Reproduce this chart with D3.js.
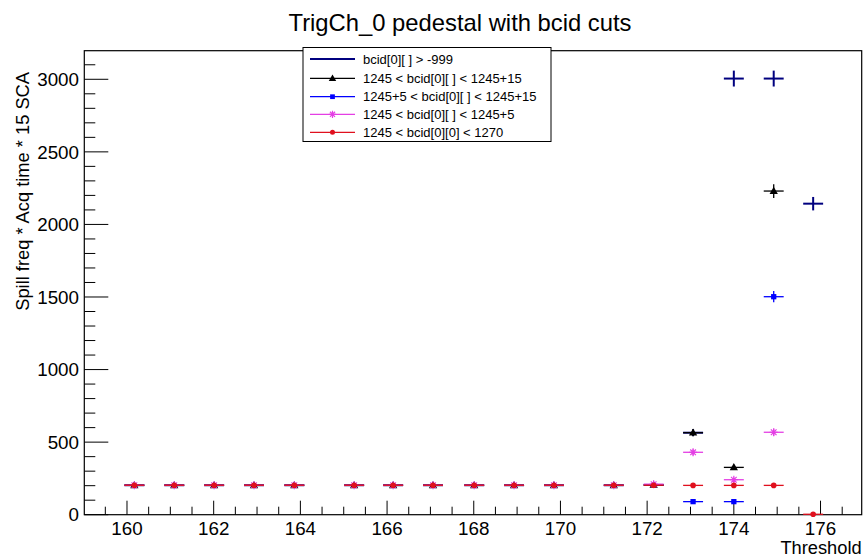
<!DOCTYPE html>
<html><head><meta charset="utf-8">
<script src="https://cdn.jsdelivr.net/npm/d3@7/dist/d3.min.js"></script>
<style>
html,body{margin:0;padding:0;background:#fff;}
svg{display:block;}
text{font-family:"Liberation Sans",Arial,Helvetica,sans-serif;}
</style>
</head><body>
<svg id="c" width="867" height="559"></svg>
<script>
// ---- data ----
const xs = [160.17,161.09,162.01,162.93,163.86,165.24,166.14,167.06,168.01,168.93,169.85,171.23,172.15,173.06,174.0,174.92,175.83];
const seriesNames = ["bcid[0][ ] > -999","1245 < bcid[0][ ] < 1245+15","1245+5 < bcid[0][ ] < 1245+15","1245 < bcid[0][ ] < 1245+5","1245 < bcid[0][0] < 1270"];
const allBcid   = [203,203,203,203,203,203,203,203,203,203,203,203,205,565,3005,3005,2143];
const cut1260   = [203,203,203,203,203,203,203,203,203,203,203,203,205,565,326,2230,null];
const cut1250to60=[null,null,null,null,null,null,null,null,null,null,null,null,null,90,90,1502,null];
const cut1250   = [203,203,203,203,203,203,203,203,203,203,203,203,210,430,241,568,null];
const cut00     = [203,203,203,203,203,203,203,203,203,203,203,203,203,202,202,202,3];
const xHalfWidth = 0.23;
const xTicks = [160,162,164,166,168,170,172,174,176];
const yTicks = [0,500,1000,1500,2000,2500,3000];
const titleText = "TrigCh_0 pedestal with bcid cuts";
const xTitle = "Threshold";
const yTitle = "Spill freq * Acq time * 15 SCA";

const svg = d3.select("#c");
const L=84.3, R=861.7, T=50.7, B=514.7;
const x = d3.scaleLinear().domain([159.015,176.95]).range([L,R]);
const y = d3.scaleLinear().domain([0,3197]).range([B,T]);

// frame
svg.append("rect").attr("x",L).attr("y",T).attr("width",R-L).attr("height",B-T)
  .attr("fill","none").attr("stroke","#000").attr("stroke-width",1.2);

// x axis ticks
const xMinor = d3.range(159.5,176.95,0.5);
const gx = svg.append("g");
xMinor.forEach(v=>{
  const major = xTicks.includes(v);
  gx.append("line").attr("x1",x(v)).attr("x2",x(v)).attr("y1",B).attr("y2",B-(major?14:8))
    .attr("stroke","#000").attr("stroke-width",1);
});
xTicks.forEach(v=>{
  gx.append("text").attr("x",x(v)).attr("y",534.5).attr("text-anchor","middle")
    .attr("font-size","18.8px").attr("fill","#000").text(v);
});
// y axis ticks
const yMinor = d3.range(0,3197,100);
const gy = svg.append("g");
yMinor.forEach(v=>{
  const major = v%500===0;
  gy.append("line").attr("x1",L).attr("x2",L+(major?24:11)).attr("y1",y(v)).attr("y2",y(v))
    .attr("stroke","#000").attr("stroke-width",1);
});
yTicks.forEach(v=>{
  gy.append("text").attr("x",79).attr("y",y(v)+6.7).attr("text-anchor","end")
    .attr("font-size","18.8px").attr("fill","#000").text(v);
});

// titles
svg.append("text").attr("x",460).attr("y",31).attr("text-anchor","middle")
  .attr("font-size","23.8px").attr("fill","#000").text(titleText);
svg.append("text").attr("x",R).attr("y",554).attr("text-anchor","end")
  .attr("font-size","18.3px").attr("fill","#000").text(xTitle);
svg.append("text").attr("transform","translate(29,72) rotate(-90)").attr("text-anchor","end")
  .attr("font-size","18.3px").attr("fill","#000").text(yTitle);

// markers
function starPath(r){
  const d=r*0.707;
  return `M${-r},0L${r},0M0,${-r}L0,${r}M${-d},${-d}L${d},${d}M${-d},${d}L${d},${-d}`;
}
const styles = [
  {vals:allBcid, color:"#00007f", lw:2, marker:null},
  {vals:cut1260, color:"#000000", lw:1.3, marker:"tri"},
  {vals:cut1250to60, color:"#0000ff", lw:1.3, marker:"sq"},
  {vals:cut1250, color:"#e43fe4", lw:1.3, marker:"star"},
  {vals:cut00, color:"#e0101e", lw:1.3, marker:"circ"}
];
function drawMarker(g,m,cx,cy,color,scale){
  scale=scale||1;
  if(m==="tri") g.append("path").attr("d",d3.symbol(d3.symbolTriangle,30*scale)()).attr("transform",`translate(${cx},${cy+0.5})`).attr("fill",color);
  else if(m==="sq") g.append("path").attr("d",d3.symbol(d3.symbolSquare,28*scale)()).attr("transform",`translate(${cx},${cy})`).attr("fill",color);
  else if(m==="star") g.append("path").attr("d",starPath(4*Math.sqrt(scale))).attr("transform",`translate(${cx},${cy})`).attr("stroke",color).attr("stroke-width",1.2).attr("fill","none");
  else if(m==="circ") g.append("circle").attr("cx",cx).attr("cy",cy).attr("r",2.8*Math.sqrt(scale)).attr("fill",color);
}
const plot = svg.append("g");
styles.forEach(s=>{
  const g = plot.append("g");
  s.vals.forEach((v,i)=>{
    if(v===null) return;
    const cx=x(xs[i]), cy=y(v), e=Math.sqrt(v);
    g.append("line").attr("x1",x(xs[i]-xHalfWidth)).attr("x2",x(xs[i]+xHalfWidth)).attr("y1",cy).attr("y2",cy)
      .attr("stroke",s.color).attr("stroke-width",s.lw);
    g.append("line").attr("x1",cx).attr("x2",cx).attr("y1",Math.min(B,y(v-e))).attr("y2",y(v+e))
      .attr("stroke",s.color).attr("stroke-width",s.lw);
    if(s.marker) drawMarker(g,s.marker,cx,cy,s.color);
  });
});

// legend
const lg = svg.append("g");
lg.append("rect").attr("x",303).attr("y",47.5).attr("width",248).attr("height",94)
  .attr("fill","#fff").attr("stroke","#000").attr("stroke-width",1);
const ly = [59,78.3,96.7,114.3,132.3];
styles.forEach((s,i)=>{
  lg.append("line").attr("x1",310).attr("x2",355).attr("y1",ly[i]).attr("y2",ly[i])
    .attr("stroke",s.color).attr("stroke-width",s.lw);
  if(s.marker) drawMarker(lg,s.marker,332.5,ly[i],s.color,0.8);
  lg.append("text").attr("x",363).attr("y",ly[i]+4.6).attr("font-size","13px").attr("fill","#000").text(seriesNames[i]);
});
</script>
</body></html>
